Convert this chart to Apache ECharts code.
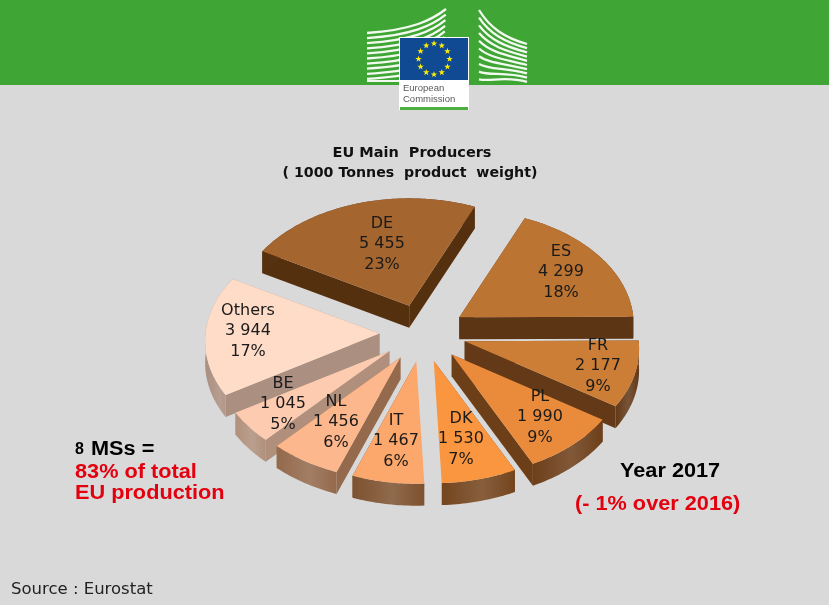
<!DOCTYPE html>
<html>
<head>
<meta charset="utf-8">
<style>html,body{margin:0;padding:0;background:#d9d9d9;}#main{width:829px;height:605px;}</style>
<script src="https://cdn.jsdelivr.net/npm/echarts@6/dist/echarts.min.js"></script>
</head>
<body>
<div id="main"></div>
<script>
// clockwise from ES
var countries = ['ES', 'FR', 'PL', 'DK', 'IT', 'NL', 'BE', 'Others', 'DE'];
var tonnes = [4299, 2177, 1990, 1530, 1467, 1456, 1045, 3944, 5455];
var shares = [18, 9, 9, 7, 6, 6, 5, 17, 23];

var topColors = ['#bc7432', '#cc7e36', '#ea8b3b', '#f9963f', '#fca76b', '#fdb78c', '#fdcbb0', '#fedcc8', '#a5652f'];
var wallColors = ['#5c3515', '#633917', '#6d3f19', '#74451e', '#7d5230', '#94694c', '#b0907c', '#ab8f80', '#55300f'];
var paintOrder = [8, 7, 0, 1, 6, 2, 5, 3, 4];
var labelAt = [[561, 272], [598, 366], [540, 417], [461, 439], [396, 441], [336, 422], [283, 404], [248, 331], [382, 244]];

var cx = 423, cy = 333;
var R = 174, Ry = 114.5, k = 0.065, explode = 0.25, depth = 22;
var startDeg = 23.5;
var total = tonnes.reduce(function (a, b) { return a + b; }, 0);

function fmt(v) {
    return String(v).replace(/\B(?=(\d{3})+$)/g, ' ');
}

// slight perspective so the near side of the disc is larger
function project(apex, deg, r) {
    var a = deg * Math.PI / 180;
    var x = Math.sin(a) * r, y = -Math.cos(a) * r;
    var s = 1 / (1 - k * y);
    return [apex[0] + R * x * s, apex[1] + Ry * y * s];
}

function down(p) {
    return [p[0], p[1] + depth];
}

function renderSlice(params, api) {
    var i = api.value(1);
    var before = 0;
    for (var j = 0; j < i; j++) before += tonnes[j];
    var a0 = startDeg + before / total * 360;
    var a1 = a0 + api.value(0) / total * 360;
    var mid = (a0 + a1) / 2 * Math.PI / 180;
    var apex = [cx + Math.sin(mid) * explode * R, cy - Math.cos(mid) * explode * Ry];

    var arc = [];
    for (var d = a0; d < a1; d += 1) arc.push(project(apex, d, 1));
    arc.push(project(apex, a1, 1));
    var arcLow = arc.map(down).reverse();

    var rank = paintOrder.indexOf(i) * 10 + 1;
    var wall = wallColors[i];
    var soft = echarts.color.lift(wall, 0.14);
    var children = [];
    // edges pointing almost straight at the viewer show no wall
    var edges = [arc[0], arc[arc.length - 1]];
    var shown = edges.filter(function (p) { return Math.abs(p[0] - apex[0]) >= 14; });
    shown.forEach(function (p) {
        var pts = shown.length === 2 ? [apex, p, down(p), down(apex)] : [apex, p, down(p)];
        children.push({ type: 'polygon', z2: rank, shape: { points: pts }, style: { fill: wall } });
    });
    children.push({
        type: 'polygon', z2: rank + 1, shape: { points: arc.concat(arcLow) },
        style: {
            fill: new echarts.graphic.LinearGradient(0, 0, 1, 0, [
                { offset: 0, color: wall }, { offset: 0.55, color: soft }, { offset: 1, color: wall }
            ])
        }
    });
    children.push({ type: 'polygon', z2: rank + 2, shape: { points: [apex].concat(arc) }, style: { fill: topColors[i] } });
    children.push({
        type: 'text', z2: 500,
        style: {
            x: labelAt[i][0], y: labelAt[i][1], text: countries[i] + '\n' + fmt(api.value(0)) + '\n' + shares[i] + '%',
            fill: '#1a1a1a', font: '16px "DejaVu Sans"', lineHeight: 20.5, align: 'center', verticalAlign: 'middle'
        }
    });
    return { type: 'group', children: children };
}

// logo ------------------------------------------------------------
function star(x, y, r) {
    var pts = [];
    for (var i = 0; i < 10; i++) {
        var a = -Math.PI / 2 + i * Math.PI / 5, q = i % 2 ? r * 0.4 : r;
        pts.push([x + q * Math.cos(a), y + q * Math.sin(a)]);
    }
    return { type: 'polygon', shape: { points: pts }, style: { fill: '#ffed00' } };
}

function logo() {
    var els = [
        { type: 'rect', shape: { x: 0, y: 0, width: 829, height: 85 }, style: { fill: '#3fa535' } }
    ];
    var i;
    // left wing
    for (i = 0; i < 10; i++) {
        var yl = 33 + i * 5.1;
        var yr = 9 + i * 5.6;
        els.push({
            type: 'bezierCurve',
            shape: { x1: 367, y1: yl, x2: 446 - i * 0.3, y2: yr, cpx1: 412, cpy1: yl - 3, cpx2: 432, cpy2: yr + 11 },
            style: { stroke: '#f2faef', lineWidth: 2.3, fill: 'none' }
        });
    }
    els.push({ type: 'rect', shape: { x: 367, y: 80, width: 34, height: 2 }, style: { fill: '#f2faef' } });
    // right wing
    for (i = 0; i < 10; i++) {
        var y0 = 10 + i * 7.7;
        var y1 = 44 + i * 4.2;
        els.push({
            type: 'bezierCurve',
            shape: { x1: 479, y1: y0, x2: 527, y2: y1, cpx1: 490, cpy1: y0 + 18 - i * 1.7, cpx2: 505, cpy2: y1 - 6 },
            style: { stroke: '#f2faef', lineWidth: 2.3, fill: 'none' }
        });
    }
    // panel and flag
    els.push({ type: 'rect', shape: { x: 399, y: 37, width: 70, height: 73 }, style: { fill: '#fff' } });
    els.push({ type: 'rect', shape: { x: 400, y: 38, width: 68, height: 42 }, style: { fill: '#0f4a92' } });
    els.push({ type: 'rect', shape: { x: 400, y: 107, width: 68, height: 3 }, style: { fill: '#4caf3f' } });
    for (i = 0; i < 12; i++) {
        var t = i * Math.PI / 6;
        els.push(star(434 + 15.5 * Math.sin(t), 59 - 15.5 * Math.cos(t), 3.4));
    }
    els.push({
        type: 'text',
        style: { x: 403, y: 83, text: 'European\nCommission', fill: '#5a5a5a', font: '9.5px "Liberation Sans"', lineHeight: 11 }
    });
    return els;
}

function txt(x, y, text, font, fill, align) {
    return { type: 'text', style: { x: x, y: y, text: text, font: font, fill: fill || '#000', align: align || 'left', verticalAlign: 'middle' } };
}

// the slide's bold notes are Arial stretched sideways
function wide(x, y, text, fill) {
    return {
        type: 'text', x: x, y: y, scaleX: 1.085,
        style: { x: 0, y: 0, text: text, font: 'bold 20px "Liberation Sans"', fill: fill || '#000', verticalAlign: 'middle' }
    };
}

var red = '#e3000f';
var notes = [
    txt(412, 153, 'EU Main  Producers', 'bold 14.5px "DejaVu Sans"', '#111', 'center'),
    txt(410, 173, '( 1000 Tonnes  product  weight)', 'bold 14.2px "DejaVu Sans"', '#111', 'center'),
    txt(75, 450, '8', 'bold 16px "Liberation Sans"'),
    wide(91, 449, 'MSs ='),
    wide(75, 472, '83% of total', red),
    wide(75, 493, 'EU production', red),
    wide(620, 471, 'Year 2017'),
    wide(575, 504, '(- 1% over 2016)', red),
    txt(11, 590, 'Source : Eurostat', '16.5px "DejaVu Sans"', '#222')
];

var myChart = echarts.init(document.getElementById('main'));
myChart.setOption({
    backgroundColor: '#d9d9d9',
    animation: false,
    graphic: { elements: logo().concat(notes) },
    series: [{
        type: 'custom',
        coordinateSystem: 'none',
        silent: true,
        renderItem: renderSlice,
        data: countries.map(function (c, i) { return { name: c, value: [tonnes[i], i] }; })
    }]
});
</script>
</body>
</html>
